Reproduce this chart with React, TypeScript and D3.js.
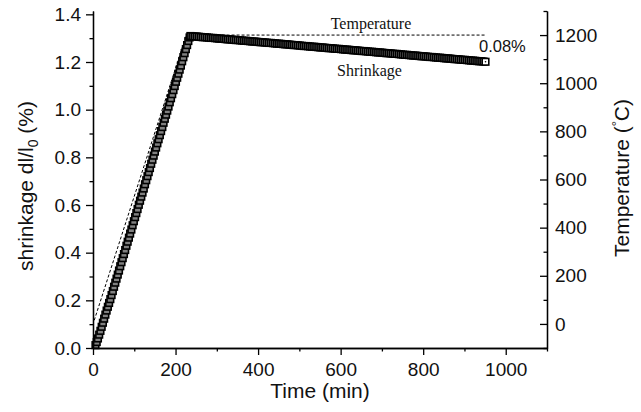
import React, { useEffect, useRef } from 'react';
import * as d3 from 'd3';

// sampling grid (min) of the dilatometer record
const riseTimes = d3.range(6, 235, 3);
const holdTimes = d3.range(236, 952, 5);

// shrinkage dl/l0 (%)
const riseShrinkage = [
  0.012, 0.025, 0.040, 0.056, 0.072, 0.089, 0.106, 0.123, 0.140, 0.157, 0.173, 0.189, 0.205,
  0.222, 0.239, 0.257, 0.274, 0.291, 0.308, 0.325, 0.343, 0.360, 0.377,
  0.394, 0.411, 0.429, 0.446, 0.463, 0.480, 0.497, 0.515, 0.532, 0.549,
  0.566, 0.583, 0.601, 0.618, 0.635, 0.652, 0.669, 0.687, 0.704, 0.721,
  0.738, 0.755, 0.773, 0.790, 0.807, 0.824, 0.841, 0.859, 0.876, 0.893,
  0.910, 0.927, 0.945, 0.962, 0.979, 0.996, 1.013, 1.031, 1.048, 1.065,
  1.082, 1.099, 1.117, 1.134, 1.151, 1.168, 1.185, 1.203, 1.220, 1.237,
  1.254, 1.271, 1.288, 1.303
];
const holdShrinkage = [
  1.309, 1.308, 1.307, 1.307, 1.306, 1.305, 1.304, 1.304, 1.303, 1.302, 1.301, 1.301,
  1.300, 1.299, 1.298, 1.298, 1.297, 1.296, 1.295, 1.295, 1.294, 1.293, 1.292, 1.292,
  1.291, 1.290, 1.289, 1.289, 1.288, 1.287, 1.286, 1.286, 1.285, 1.284, 1.283, 1.283,
  1.282, 1.281, 1.280, 1.280, 1.279, 1.278, 1.277, 1.277, 1.276, 1.275, 1.274, 1.274,
  1.273, 1.272, 1.271, 1.271, 1.270, 1.269, 1.268, 1.267, 1.267, 1.266, 1.265, 1.264,
  1.264, 1.263, 1.262, 1.261, 1.261, 1.260, 1.259, 1.258, 1.258, 1.257, 1.256, 1.255,
  1.255, 1.254, 1.253, 1.252, 1.252, 1.251, 1.250, 1.249, 1.249, 1.248, 1.247, 1.246,
  1.246, 1.245, 1.244, 1.243, 1.243, 1.242, 1.241, 1.240, 1.240, 1.239, 1.238, 1.237,
  1.237, 1.236, 1.235, 1.234, 1.234, 1.233, 1.232, 1.231, 1.230, 1.230, 1.229, 1.228,
  1.227, 1.227, 1.226, 1.225, 1.224, 1.224, 1.223, 1.222, 1.221, 1.221, 1.220, 1.219,
  1.218, 1.218, 1.217, 1.216, 1.215, 1.215, 1.214, 1.213, 1.212, 1.212, 1.211, 1.210,
  1.209, 1.209, 1.208, 1.207, 1.206, 1.206, 1.205, 1.204, 1.203, 1.203, 1.202, 1.201
];

// furnace program
const tempTimes = [3, 226, 951];
const tempValues = [15, 1200, 1200];

// ticks
const xMajor = [0, 200, 400, 600, 800, 1000];
const xMinor = [100, 300, 500, 700, 900, 1100];
const leftMajor = [0, 0.2, 0.4, 0.6, 0.8, 1.0, 1.2, 1.4];
const leftMinor = [0.1, 0.3, 0.5, 0.7, 0.9, 1.1, 1.3];
const rightMajor = [0, 200, 400, 600, 800, 1000, 1200];
const rightMinor = [-100, 100, 300, 500, 700, 900, 1100, 1300];

const sans = "'Liberation Sans', Arial, sans-serif";
const serif = "'Liberation Serif', 'Times New Roman', serif";

export default function App() {
  const ref = useRef<SVGSVGElement>(null);

  useEffect(() => {
    const svg = d3.select(ref.current);
    svg.selectAll('*').remove();

    const x = d3.scaleLinear().domain([0, 1100]).range([93, 547]);
    const yL = d3.scaleLinear().domain([0, 1.414]).range([348, 11]);
    const yR = d3.scaleLinear().domain([-100, 1300]).range([348, 11]);

    const style = (g: any) => {
      g.select('.domain').attr('stroke', '#000').attr('stroke-width', 1.3);
      g.selectAll('.tick line').attr('stroke', '#000').attr('stroke-width', 1.3);
      g.selectAll('.tick text')
        .attr('font-family', sans)
        .attr('font-size', 19)
        .attr('fill', '#111');
    };

    // temperature program (dashed)
    const line = d3.line<number>()
      .x((d, i) => x(tempTimes[i]))
      .y(d => yR(d));
    svg.append('path')
      .attr('d', line(tempValues))
      .attr('fill', 'none')
      .attr('stroke', '#000')
      .attr('stroke-width', 1)
      .attr('stroke-dasharray', '3,2');

    // shrinkage markers
    const pts = riseTimes.map((t, i) => [t, riseShrinkage[i]])
      .concat(holdTimes.map((t, i) => [t, holdShrinkage[i]]));
    const s = 6.6;
    svg.append('g').selectAll('rect').data(pts)
      .enter()
      .append('rect')
      .attr('x', d => x(d[0]) - s / 2)
      .attr('y', d => yL(d[1]) - s / 2)
      .attr('width', s)
      .attr('height', s)
      .attr('fill', (d, i) => (i === pts.length - 1 ? '#fff' : '#808080'))
      .attr('stroke', '#000')
      .attr('stroke-width', 1.6);
    const last = pts[pts.length - 1];
    svg.append('circle')
      .attr('cx', x(last[0]))
      .attr('cy', yL(last[1]))
      .attr('r', 0.8)
      .attr('fill', '#000');

    // axes
    const intFmt = d3.format('d');
    svg.append('g').attr('transform', 'translate(0,348)')
      .call(d3.axisBottom(x).tickValues(xMajor).tickSize(7).tickSizeOuter(0).tickPadding(8)
        .tickFormat(intFmt))
      .call(style);
    svg.append('g').attr('transform', 'translate(0,348)')
      .call(d3.axisBottom(x).tickValues(xMinor).tickSize(3.5).tickSizeOuter(0).tickFormat(() => ''))
      .call(style);

    svg.append('g').attr('transform', 'translate(93,0)')
      .call(d3.axisLeft(yL).tickValues(leftMajor).tickSize(7).tickSizeOuter(0).tickPadding(5)
        .tickFormat(d3.format('.1f')))
      .call(style);
    svg.append('g').attr('transform', 'translate(93,0)')
      .call(d3.axisLeft(yL).tickValues(leftMinor).tickSize(3.5).tickSizeOuter(0).tickFormat(() => ''))
      .call(style);

    svg.append('g').attr('transform', 'translate(547,0)')
      .call(d3.axisRight(yR).tickValues(rightMajor).tickSize(-7).tickSizeOuter(0).tickPadding(8)
        .tickFormat(intFmt))
      .call(style);
    svg.append('g').attr('transform', 'translate(547,0)')
      .call(d3.axisRight(yR).tickValues(rightMinor).tickSize(-3.5).tickSizeOuter(0).tickFormat(() => ''))
      .call(style);

    // annotations
    svg.append('text').attr('x', 371).attr('y', 28.5)
      .attr('text-anchor', 'middle').attr('font-family', serif).attr('font-size', 16)
      .attr('fill', '#111').text('Temperature');
    svg.append('text').attr('x', 369.5).attr('y', 75.5)
      .attr('text-anchor', 'middle').attr('font-family', serif).attr('font-size', 16)
      .attr('fill', '#111').text('Shrinkage');
    svg.append('text').attr('x', 479).attr('y', 52.3)
      .attr('font-family', sans).attr('font-size', 16.5)
      .attr('fill', '#111').text('0.08%');

    // axis titles
    svg.append('text').attr('x', 320).attr('y', 398)
      .attr('text-anchor', 'middle').attr('font-family', sans).attr('font-size', 21)
      .attr('fill', '#111').text('Time (min)');

    const lt = svg.append('text')
      .attr('transform', 'translate(32.6,186) rotate(-90)')
      .attr('text-anchor', 'middle').attr('font-family', sans).attr('font-size', 21)
      .attr('fill', '#111');
    lt.append('tspan').text('shrinkage dl/l');
    lt.append('tspan').attr('dy', 5).attr('font-size', 14).text('0');
    lt.append('tspan').attr('dy', -5).text(' (%)');

    const rt = svg.append('text')
      .attr('transform', 'translate(629,178) rotate(-90)')
      .attr('text-anchor', 'middle').attr('font-family', sans).attr('font-size', 21)
      .attr('fill', '#111');
    rt.append('tspan').text('Temperature (');
    rt.append('tspan').attr('dy', -8).attr('font-size', 13).text('°');
    rt.append('tspan').attr('dy', 8).text('C)');
  }, []);

  return (
    <svg
      ref={ref}
      width={641}
      height={412}
      style={{ position: 'absolute', left: 0, top: 0, background: '#fff' }}
    />
  );
}
